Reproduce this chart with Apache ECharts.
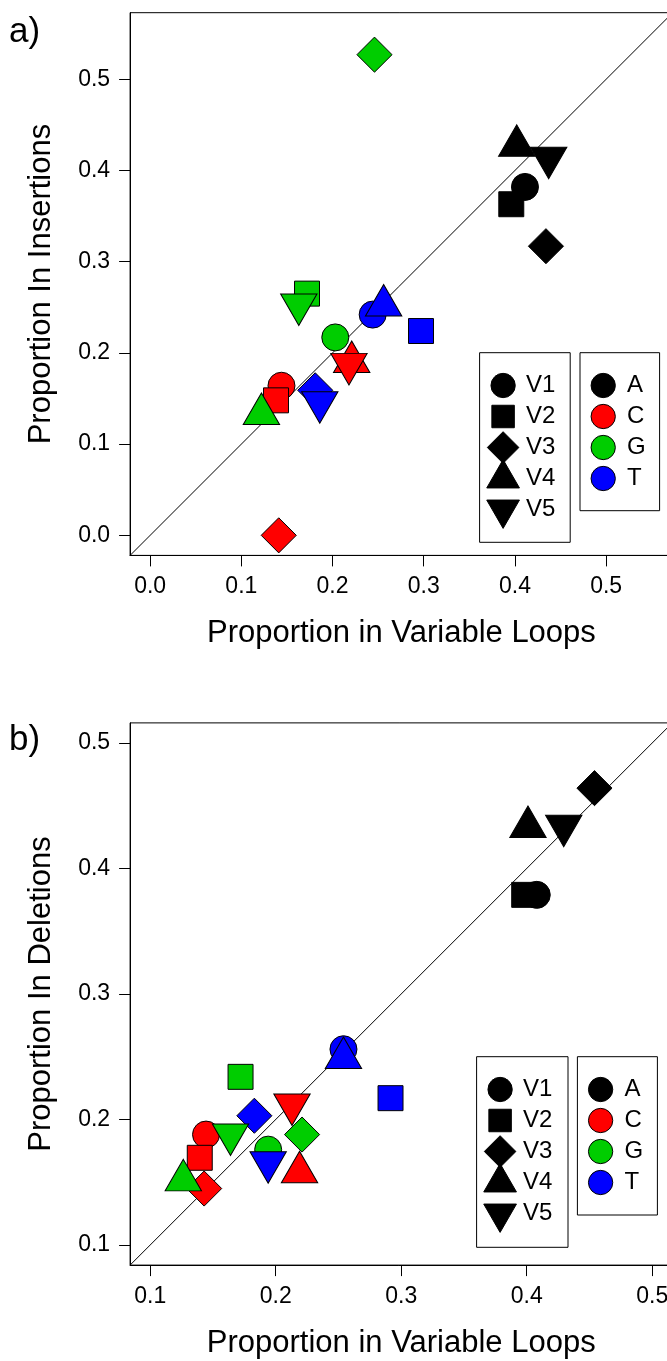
<!DOCTYPE html>
<html>
<head>
<meta charset="utf-8">
<script src="https://cdn.jsdelivr.net/npm/echarts@6/dist/echarts.min.js"></script>
<style>
  html, body { margin: 0; padding: 0; background: #ffffff; }
  #chart { width: 667px; height: 1361px; }
</style>
</head>
<body>
<div id="chart"></div>
<script>
// ---- data ---------------------------------------------------------------
const regions = ['V1', 'V2', 'V3', 'V4', 'V5'];
const nucleotides = ['A', 'C', 'G', 'T'];
const nucleotideColors = ['#000000', '#FF0000', '#00CD00', '#0000FF'];

// Panel a: [proportion in variable loops, proportion in insertions], order A, C, G, T
const insV1 = [[0.411, 0.382], [0.144, 0.164], [0.203, 0.217], [0.244, 0.242]];
const insV2 = [[0.396, 0.363], [0.138, 0.148], [0.172, 0.265], [0.297, 0.224]];
const insV3 = [[0.434, 0.317], [0.141, 0.000], [0.246, 0.527], [0.181, 0.159]];
const insV4 = [[0.402, 0.427], [0.221, 0.190], [0.122, 0.133], [0.256, 0.252]];
const insV5 = [[0.437, 0.414], [0.218, 0.188], [0.163, 0.253], [0.186, 0.146]];

// Panel b: [proportion in variable loops, proportion in deletions], order A, C, G, T
const delV1 = [[0.408, 0.379], [0.1445, 0.188], [0.194, 0.176], [0.254, 0.256]];
const delV2 = [[0.398, 0.379], [0.1395, 0.1695], [0.172, 0.234], [0.2915, 0.217]];
const delV3 = [[0.454, 0.464], [0.143, 0.145], [0.221, 0.188], [0.183, 0.203]];
const delV4 = [[0.401, 0.433], [0.219, 0.158], [0.1264, 0.1515], [0.254, 0.249]];
const delV5 = [[0.4295, 0.434], [0.213, 0.212], [0.164, 0.188], [0.194, 0.166]];

// axis limits (same on both axes of a panel) and tick values
const limA = [-0.022, 0.573];
const limB = [0.084, 0.516];
const ticksA = [0, 0.1, 0.2, 0.3, 0.4, 0.5];
const ticksB = [0.1, 0.2, 0.3, 0.4, 0.5];

const xTitle = 'Proportion in Variable Loops';
const yTitleA = 'Proportion In Insertions';
const yTitleB = 'Proportion In Deletions';

// ---- styling ------------------------------------------------------------
const FONT = '"Liberation Sans", Arial, Helvetica, sans-serif';
const R = 13.5; // base symbol radius in px
const TRI_W = 2.6936 * R, TRI_H = 2.3327 * R;

function symbolSpec(region) {
  switch (region) {
    case 'V1': return { symbol: 'circle', symbolSize: 2 * R, symbolOffset: [0, 0] };
    case 'V2': return { symbol: 'rect', symbolSize: 1.85 * R, symbolOffset: [0, 0] };
    case 'V3': return { symbol: 'diamond', symbolSize: [2.6 * R, 2.6 * R], symbolOffset: [0, 0] };
    case 'V4': return { symbol: 'triangle', symbolSize: [TRI_W, TRI_H], symbolOffset: [0, -TRI_H / 6] };
    default:   return { symbol: 'path://M0,0L2,0L1,2Z', symbolSize: [TRI_W, TRI_H], symbolOffset: [0, TRI_H / 6] };
  }
}

const panels = [
  { lim: limA, ticks: ticksA, yTitle: yTitleA, data: [insV1, insV2, insV3, insV4, insV5],
    grid: { left: 130.1, top: 12.7, width: 542.6, height: 542.7 },
    tag: { text: 'a)', y: 32 },
    legendBoxes: [{ x: 479.6, y: 352.7, w: 90.6, h: 189.6 }, { x: 580, y: 352.7, w: 79.6, h: 158 }] },
  { lim: limB, ticks: ticksB, yTitle: yTitleB, data: [delV1, delV2, delV3, delV4, delV5],
    grid: { left: 130.1, top: 722.9, width: 542.2, height: 542.2 },
    tag: { text: 'b)', y: 740 },
    legendBoxes: [{ x: 476.6, y: 1056.7, w: 91.4, h: 190.6 }, { x: 577.4, y: 1056.7, w: 80, h: 158.3 }] }
];

const grid = [], xAxis = [], yAxis = [], series = [], graphic = [];

panels.forEach((p, gi) => {
  grid.push(Object.assign({
    show: true, borderColor: '#000', borderWidth: 1, backgroundColor: 'transparent',
    containLabel: false, outerBoundsMode: 'none'
  }, p.grid));

  const common = {
    gridIndex: gi, type: 'value', min: p.lim[0], max: p.lim[1],
    splitLine: { show: false },
    axisLine: { show: true, onZero: false, lineStyle: { color: '#000', width: 1 } },
    axisTick: { show: true, inside: false, length: 11, customValues: p.ticks, lineStyle: { color: '#000', width: 1 } },
    axisLabel: { customValues: p.ticks, formatter: v => v.toFixed(1), color: '#000',
                 fontSize: 23, fontFamily: FONT, margin: 20 },
    nameLocation: 'middle',
    nameTextStyle: { color: '#000', fontSize: 31, fontFamily: FONT }
  };
  xAxis.push(Object.assign({}, common, { name: xTitle, nameGap: 63 }));
  yAxis.push(Object.assign({}, common, { name: p.yTitle, nameGap: 73 }));

  // 1:1 reference line
  series.push({
    type: 'line', xAxisIndex: gi, yAxisIndex: gi, silent: true, symbol: 'none',
    data: [[p.lim[0], p.lim[0]], [p.lim[1], p.lim[1]]],
    lineStyle: { color: '#000', width: 1 }, clip: true, animation: false, z: 1
  });

  // one scatter series per variable region, coloured by nucleotide
  regions.forEach((reg, ri) => {
    const s = symbolSpec(reg);
    series.push(Object.assign({
      type: 'scatter', name: reg, xAxisIndex: gi, yAxisIndex: gi, silent: true, animation: false, z: 2,
      itemStyle: { color: '#000', borderColor: '#000', borderWidth: 1, opacity: 1 },
      emphasis: { disabled: true },
      data: p.data[ri].map((pt, ni) => ({ name: nucleotides[ni], value: pt, itemStyle: { color: nucleotideColors[ni] } }))
    }, s));
  });

  // panel tag
  graphic.push({ type: 'text', x: 9, y: p.tag.y,
    style: { text: p.tag.text, font: '35px ' + FONT, fill: '#000', verticalAlign: 'middle', align: 'left' } });

  // legend boxes
  const sc = 0.9, step = 31, firstY = 32.8;
  const b1 = p.legendBoxes[0], b2 = p.legendBoxes[1];
  graphic.push({ type: 'rect', shape: { x: b1.x, y: b1.y, width: b1.w, height: b1.h },
    style: { fill: '#fff', stroke: '#000', lineWidth: 1 }, z: 10 });
  graphic.push({ type: 'rect', shape: { x: b2.x, y: b2.y, width: b2.w, height: b2.h },
    style: { fill: '#fff', stroke: '#000', lineWidth: 1 }, z: 10 });

  regions.forEach((reg, i) => {
    const cx = b1.x + 23.5, cy = b1.y + firstY + i * step;
    graphic.push(keyShape(reg, cx, cy, sc, '#000'));
    graphic.push({ type: 'text', x: b1.x + 46.5, y: cy, z: 11,
      style: { text: reg, font: '24px ' + FONT, fill: '#000', verticalAlign: 'middle', align: 'left' } });
  });
  nucleotides.forEach((nt, i) => {
    const cx = b2.x + 23.2, cy = b2.y + firstY + i * step;
    graphic.push(keyShape('V1', cx, cy, sc, nucleotideColors[i]));
    graphic.push({ type: 'text', x: b2.x + 47, y: cy, z: 11,
      style: { text: nt, font: '24px ' + FONT, fill: '#000', verticalAlign: 'middle', align: 'left' } });
  });
});

// legend key glyph, same shapes as the plotted symbols
function keyShape(region, cx, cy, s, color) {
  const style = { fill: color, stroke: '#000', lineWidth: 1 };
  if (region === 'V1') return { type: 'circle', z: 11, shape: { cx, cy, r: R * s }, style };
  if (region === 'V2') {
    const h = 0.925 * R * s;
    return { type: 'rect', z: 11, shape: { x: cx - h, y: cy - h, width: 2 * h, height: 2 * h }, style };
  }
  if (region === 'V3') {
    const d = 1.3 * R * s;
    return { type: 'polygon', z: 11, shape: { points: [[cx, cy - d], [cx + d, cy], [cx, cy + d], [cx - d, cy]] }, style };
  }
  const w = TRI_W * s / 2, h = TRI_H * s;
  if (region === 'V4')
    return { type: 'polygon', z: 11, shape: { points: [[cx, cy - 2 * h / 3], [cx + w, cy + h / 3], [cx - w, cy + h / 3]] }, style };
  return { type: 'polygon', z: 11, shape: { points: [[cx, cy + 2 * h / 3], [cx + w, cy - h / 3], [cx - w, cy - h / 3]] }, style };
}

const chart = echarts.init(document.getElementById('chart'), null, { renderer: 'canvas' });
chart.setOption({
  backgroundColor: '#ffffff',
  animation: false,
  textStyle: { fontFamily: FONT },
  grid, xAxis, yAxis, series, graphic
});
</script>
</body>
</html>
